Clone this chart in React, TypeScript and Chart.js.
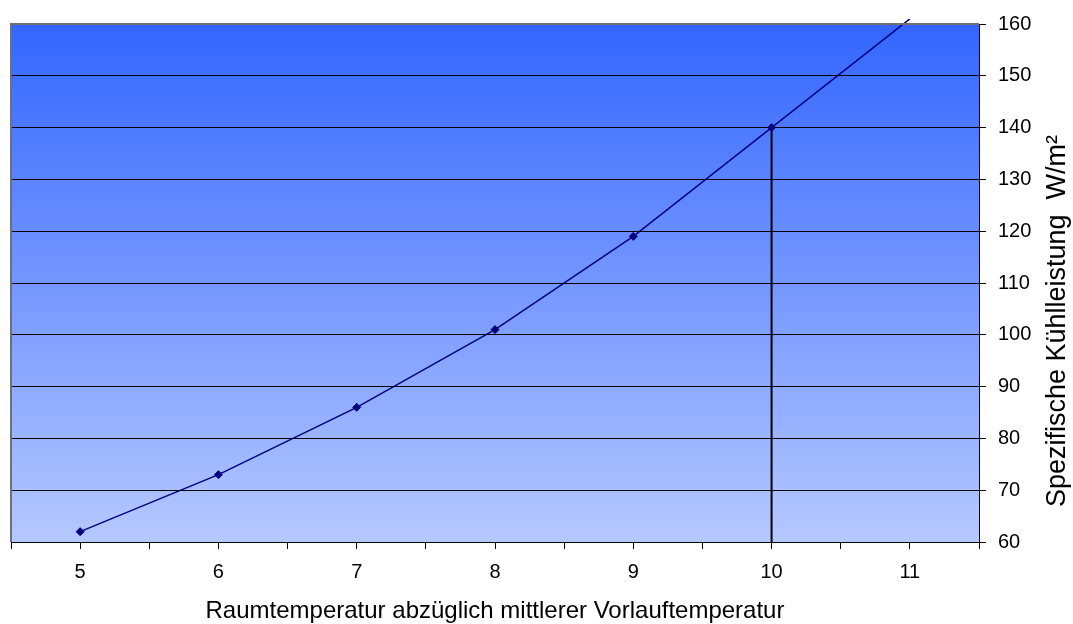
import React, { useEffect, useRef } from "react";
import { Chart, registerables } from "chart.js";

Chart.register(...registerables);

const xValues = [5, 6, 7, 8, 9, 10, 11];
const yValues = [62, 73, 86, 101, 119, 140, 161];
const markerLineX = [10, 10];
const markerLineY = [60, 140];
const yTicks = { min: 60, max: 160, step: 10 };
const xRange = { min: 4.5, max: 11.5, step: 0.5 };
const xTitle = "Raumtemperatur abzüglich mittlerer Vorlauftemperatur";
const yTitle = "Spezifische Kühlleistung  W/m²";

const FONT = "'Liberation Sans', Arial, sans-serif";

export default function App() {
  const ref = useRef<HTMLCanvasElement>(null);
  useEffect(() => {
    if (!ref.current) return;
    const bgPlugin = {
      id: "bg",
      beforeDraw(chart: any) {
        const { ctx, chartArea: a } = chart;
        const g = ctx.createLinearGradient(0, a.top, 0, a.bottom);
        g.addColorStop(0, "#3366FF");
        g.addColorStop(1, "#B5C8FF");
        ctx.save();
        ctx.fillStyle = g;
        ctx.fillRect(a.left, a.top, a.right - a.left, a.bottom - a.top);
        ctx.restore();
      },
      afterDraw(chart: any) {
        const { ctx, chartArea: a } = chart;
        ctx.save();
        ctx.strokeStyle = "#707070";
        ctx.lineWidth = 2;
        ctx.beginPath();
        ctx.moveTo(a.left, a.bottom);
        ctx.lineTo(a.left, a.top);
        ctx.lineTo(a.right, a.top);
        ctx.stroke();
        ctx.fillStyle = "#000";
        ctx.font = `24px ${FONT}`;
        ctx.textAlign = "center";
        ctx.textBaseline = "alphabetic";
        ctx.fillText(xTitle, (a.left + a.right) / 2, 618);
        ctx.font = `27px ${FONT}`;
        ctx.translate(1065, 321);
        ctx.rotate(-Math.PI / 2);
        ctx.fillText(yTitle, 0, 0);
        ctx.restore();
      },
    };
    const chart = new Chart(ref.current, {
      type: "scatter",
      data: {
        datasets: [
          {
            data: xValues.map((x, i) => ({ x, y: yValues[i] })),
            showLine: true,
            borderColor: "#000080",
            backgroundColor: "#000080",
            borderWidth: 1.5,
            pointStyle: "rectRot",
            pointRadius: xValues.map((x) => (x === 11 ? 0 : 4)),
            pointBorderWidth: 1,
            clip: { left: 0, top: 5, right: 0, bottom: 0 } as any,
          },
          {
            data: markerLineX.map((x, i) => ({ x, y: markerLineY[i] })),
            showLine: true,
            borderColor: "#000000",
            borderWidth: 2,
            pointRadius: 0,
          },
        ],
      },
      options: {
        responsive: false,
        animation: false,
        layout: { padding: { left: 9, top: 17, right: 0, bottom: 0 } },
        plugins: { legend: { display: false }, tooltip: { enabled: false } },
        scales: {
          x: {
            type: "linear",
            min: xRange.min,
            max: xRange.max,
            afterFit: (s: any) => { s.height = 82; },
            ticks: {
              stepSize: xRange.step,
              autoSkip: false,
              maxRotation: 0,
              padding: 11,
              color: "#000",
              font: { family: FONT, size: 20 },
              callback: (v: any) => (Number.isInteger(v) ? String(v) : ""),
            },
            grid: {
              drawOnChartArea: false,
              drawTicks: true,
              tickLength: 7,
              color: "#000",
            },
            border: { color: "#000", width: 1 },
          },
          y: {
            position: "right",
            min: yTicks.min,
            max: yTicks.max,
            afterFit: (s: any) => { s.width = 94; },
            ticks: {
              stepSize: yTicks.step,
              padding: 12,
              color: "#000",
              font: { family: FONT, size: 20 },
            },
            grid: {
              color: "#000",
              lineWidth: 1,
              tickLength: 7,
            },
            border: { color: "#000", width: 1 },
          },
        },
      },
      plugins: [bgPlugin],
    });
    return () => chart.destroy();
  }, []);
  return (
    <div style={{ position: "fixed", left: 0, top: 0, width: 1073, height: 624, background: "#fff" }}>
      <canvas ref={ref} width={1073} height={624} />
    </div>
  );
}
